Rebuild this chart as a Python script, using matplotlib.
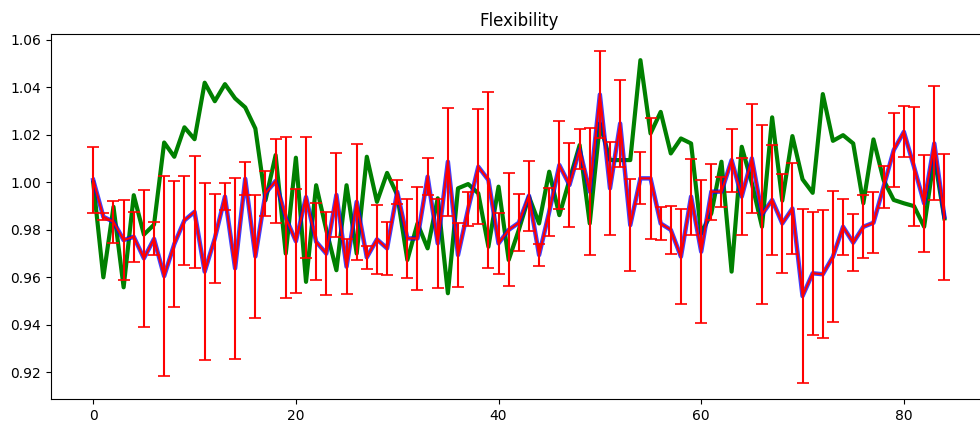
import matplotlib
matplotlib.use("Agg")
import matplotlib.pyplot as plt
import numpy as np

# Mean flexibility per step with its spread, plus the reference run
mean_flex = [
    1.001, 0.9855, 0.9834, 0.9757, 0.9771, 0.968, 0.9762, 0.9605, 0.974, 0.984,
    0.9876, 0.9624, 0.9764, 0.994, 0.9638, 1.0015, 0.9688, 0.9954, 1.0006, 0.9852,
    0.9752, 0.9938, 0.975, 0.970, 0.9947, 0.9645, 0.9918, 0.9684, 0.976, 0.9722,
    0.996, 0.9764, 0.9764, 1.0024, 0.9743, 1.0087, 0.9694, 0.9888, 1.0066, 1.001,
    0.9743, 0.980, 0.983, 0.9944, 0.9694, 0.9876, 1.0073, 0.9989, 1.0139, 0.9961,
    1.037, 0.9975, 1.0248, 0.982, 1.0017, 1.0017, 0.9827, 0.980, 0.9687, 0.994,
    0.9708, 0.9961, 0.9961, 1.0094, 0.994, 1.0101, 0.9865, 0.9926, 0.9827, 0.989,
    0.9521, 0.9617, 0.9613, 0.9687, 0.9813, 0.9746, 0.9813, 0.983, 0.9982, 1.0136,
    1.0213, 1.0066, 0.9912, 1.0164, 0.9855,
]

err_flex = [
    0.014, 0.0015, 0.0088, 0.017, 0.0105, 0.029, 0.007, 0.042, 0.0265, 0.0188,
    0.0236, 0.0374, 0.0187, 0.0056, 0.038, 0.007, 0.0258, 0.0095, 0.0175, 0.034,
    0.022, 0.0255, 0.0163, 0.0175, 0.0176, 0.0116, 0.0243, 0.005, 0.0145, 0.0113,
    0.005, 0.0167, 0.0216, 0.0077, 0.0188, 0.0227, 0.0136, 0.0073, 0.0243, 0.0372,
    0.013, 0.0238, 0.012, 0.0147, 0.0047, 0.010, 0.0185, 0.0178, 0.0084, 0.0267,
    0.0184, 0.0195, 0.0184, 0.0193, 0.011, 0.0256, 0.007, 0.010, 0.020, 0.016,
    0.030, 0.0118, 0.0063, 0.0133, 0.0163, 0.0228, 0.0378, 0.023, 0.021, 0.019,
    0.0365, 0.026, 0.027, 0.0275, 0.0117, 0.012, 0.0132, 0.0128, 0.0088, 0.0156,
    0.0107, 0.025, 0.0205, 0.024, 0.0265,
]

reference_flex = [
    1.0, 0.960, 0.9897, 0.9558, 0.9946, 0.978, 0.9822, 1.0168, 1.0108, 1.0232,
    1.0182, 1.042, 1.0342, 1.0414, 1.0354, 1.0316, 1.0227, 0.9925, 1.0115, 0.970,
    1.0104, 0.9581, 0.9988, 0.980, 0.963, 0.9988, 0.970, 1.0108, 0.9918, 1.004,
    0.9947, 0.9673, 0.9827, 0.9722, 0.9933, 0.9533, 0.9975, 0.9993, 0.9954, 0.9729,
    0.9982, 0.9673, 0.980, 0.994, 0.9827, 1.0045, 0.9862, 1.001, 1.0157, 0.9827,
    1.0248, 1.0094, 1.0094, 1.0094, 1.0515, 1.0206, 1.0297, 1.0122, 1.0185, 1.0164,
    0.9785, 0.987, 1.0087, 0.9624, 1.015, 0.9996, 0.9813, 1.0274, 0.9923, 1.0195,
    1.0013, 0.9956, 1.0372, 1.0175, 1.0199, 1.0164, 0.9912, 1.0181, 1.001, 0.9926,
    0.9912, 0.99, 0.9813, 1.0108, 0.9848,
]

steps = np.arange(len(mean_flex))

fig = plt.figure(figsize=(9.8, 4.23), dpi=100)
ax = fig.add_axes([0.0517, 0.056, 0.9554, 0.8629])

ax.plot(steps, reference_flex, color="green", linewidth=3, zorder=1)
ax.plot(steps, mean_flex, color="blue", linewidth=3.2, alpha=0.75, zorder=2)
ax.errorbar(steps, mean_flex, yerr=err_flex, color="red", ecolor="red",
            linewidth=1.5, elinewidth=1.5, capsize=4, capthick=1.2, zorder=3)

ax.set_title("Flexibility")

fig.savefig("out.png", dpi=100)
